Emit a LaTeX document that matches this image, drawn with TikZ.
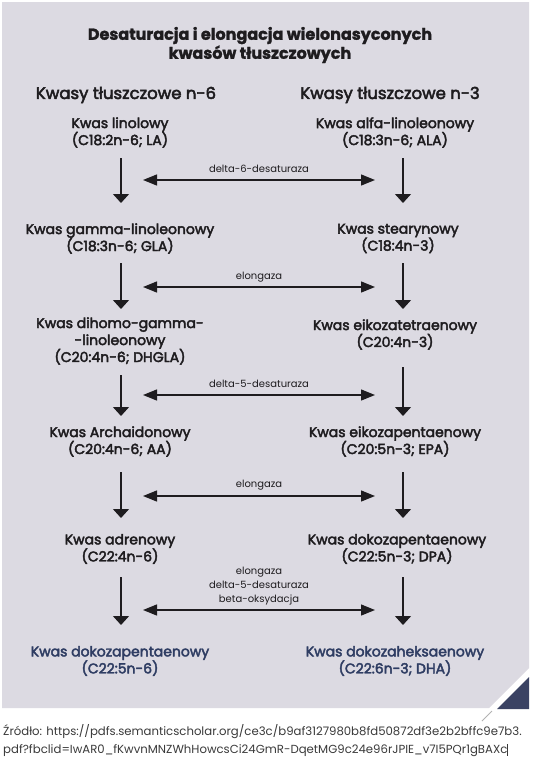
\documentclass[tikz,border=0pt]{standalone}
\usepackage{fontspec}
\setmainfont{Poppins}
\newfontfamily\medfont[FakeBold=3]{Poppins}
\newfontfamily\titlefont[FakeBold=1.5]{Poppins Bold}
\newfontfamily\lightfont{Poppins}
\usetikzlibrary{arrows.meta}
\definecolor{panel}{HTML}{DCDAE2}
\definecolor{navy}{HTML}{3A4263}
\definecolor{navytext}{HTML}{2F3D63}
\definecolor{ink}{HTML}{1E1C1F}
\definecolor{foot}{HTML}{3A3A3A}
\tikzset{
  acid/.style={align=center, inner sep=0pt, text=ink, font=\medfont\fontsize{14}{17}\selectfont},
  final/.style={acid, text=navytext},
  header/.style={inner sep=0pt, text=ink, font=\medfont\fontsize{16.5}{18}\selectfont},
  enzyme/.style={align=center, inner sep=0pt, text=ink, font=\fontsize{10}{14}\selectfont},
  varrow/.style={line width=1.3pt, ink, -{Triangle[width=16pt,length=9pt]}},
  harrow/.style={line width=1.3pt, ink, {Triangle[width=11pt,length=14pt]}-{Triangle[width=11pt,length=14pt]}},
}
\begin{document}
\begin{tikzpicture}[x=1pt,y=-1pt]
\useasboundingbox (0,0) rectangle (533,763);
\fill[white] (0,0) rectangle (533,763);
\fill[panel] (2,2) -- (529,2) -- (529,668) -- (489,708) -- (2,708) -- cycle;
\fill[navy] (497,709) -- (529,677) -- (529,709) -- cycle;
\draw[gray!60, line width=0.8pt] (482,721) -- (492,711);

% title
\node[font=\titlefont\fontsize{16}{19}\selectfont, text=ink, align=center, inner sep=0pt] (title) at (260,45) {Desaturacja i elongacja wielonasyconych\\kwasów tłuszczowych};

% headers
\node[header] (h6) at (126,95) {Kwasy tłuszczowe n-6};
\node[header] (h3) at (390,95) {Kwasy tłuszczowe n-3};

% left column
\node[acid] (L1) at (120,132.5) {Kwas linolowy\\(C18:2n-6; LA)};
\node[acid] (L2) at (120,238.5) {Kwas gamma-linoleonowy\\(C18:3n-6; GLA)};
\node[acid] (L3) at (120,341) {Kwas dihomo-gamma-\\-linoleonowy\\(C20:4n-6; DHGLA)};
\node[acid] (L4) at (120,441.5) {Kwas Archaidonowy\\(C20:4n-6; AA)};
\node[acid] (L5) at (120,549) {Kwas adrenowy\\(C22:4n-6)};
\node[final] (L6) at (120,661) {Kwas dokozapentaenowy\\(C22:5n-6)};

% right column
\node[acid] (R1) at (395,132.5) {Kwas alfa-linoleonowy\\(C18:3n-6; ALA)};
\node[acid] (R2) at (398,238.5) {Kwas stearynowy\\(C18:4n-3)};
\node[acid] (R3) at (395,334.5) {Kwas eikozatetraenowy\\(C20:4n-3)};
\node[acid] (R4) at (395,441.5) {Kwas eikozapentaenowy\\(C20:5n-3; EPA)};
\node[acid] (R5) at (397,549) {Kwas dokozapentaenowy\\(C22:5n-3; DPA)};
\node[final] (R6) at (395,661) {Kwas dokozaheksaenowy\\(C22:6n-3; DHA)};

% column axes
\coordinate (xl) at (121,0);
\coordinate (xr) at (403,0);
\coordinate (ha) at (143,0);
\coordinate (hb) at (375,0);

% vertical arrows
\draw[varrow] (xl |- 0,158) -- (xl |- 0,203);
\draw[varrow] (xr |- 0,158) -- (xr |- 0,203);
\draw[varrow] (xl |- 0,263) -- (xl |- 0,309);
\draw[varrow] (xr |- 0,263) -- (xr |- 0,309);
\draw[varrow] (xl |- 0,375) -- (xl |- 0,416);
\draw[varrow] (xr |- 0,367) -- (xr |- 0,416);
\draw[varrow] (xl |- 0,472) -- (xl |- 0,518);
\draw[varrow] (xr |- 0,472) -- (xr |- 0,518);
\draw[varrow] (xl |- 0,577) -- (xl |- 0,625);
\draw[varrow] (xr |- 0,577) -- (xr |- 0,625);

% horizontal double arrows with enzyme labels
\draw[harrow] (ha |- 0,180) -- (hb |- 0,180);
\node[enzyme] (e1) at (259,169) {delta-6-desaturaza};
\draw[harrow] (ha |- 0,287) -- (hb |- 0,287);
\node[enzyme] (e2) at (259,277) {elongaza};
\draw[harrow] (ha |- 0,395) -- (hb |- 0,395);
\node[enzyme] (e3) at (259,384) {delta-5-desaturaza};
\draw[harrow] (ha |- 0,496) -- (hb |- 0,496);
\node[enzyme] (e4) at (259,485) {elongaza};
\draw[harrow] (ha |- 0,610) -- (hb |- 0,610);
\node[enzyme] (e5) at (259,586) {elongaza\\delta-5-desaturaza\\beta-oksydacja};

% footnote
\node[anchor=west, inner sep=0pt, text=foot, font=\lightfont\fontsize{11.7}{18}\selectfont, align=left] (src) at (3,741) {Źródło: https://pdfs.semanticscholar.org/ce3c/b9af3127980b8fd50872df3e2b2bffc9e7b3.\\pdf?fbclid=IwAR0\_fKwvnMNZWhHowcsCi24GmR-DqetMG9c24e96rJPIE\_v7I5PQr1gBAXc\rule[-2pt]{0.9pt}{12pt}};
\end{tikzpicture}
\end{document}
